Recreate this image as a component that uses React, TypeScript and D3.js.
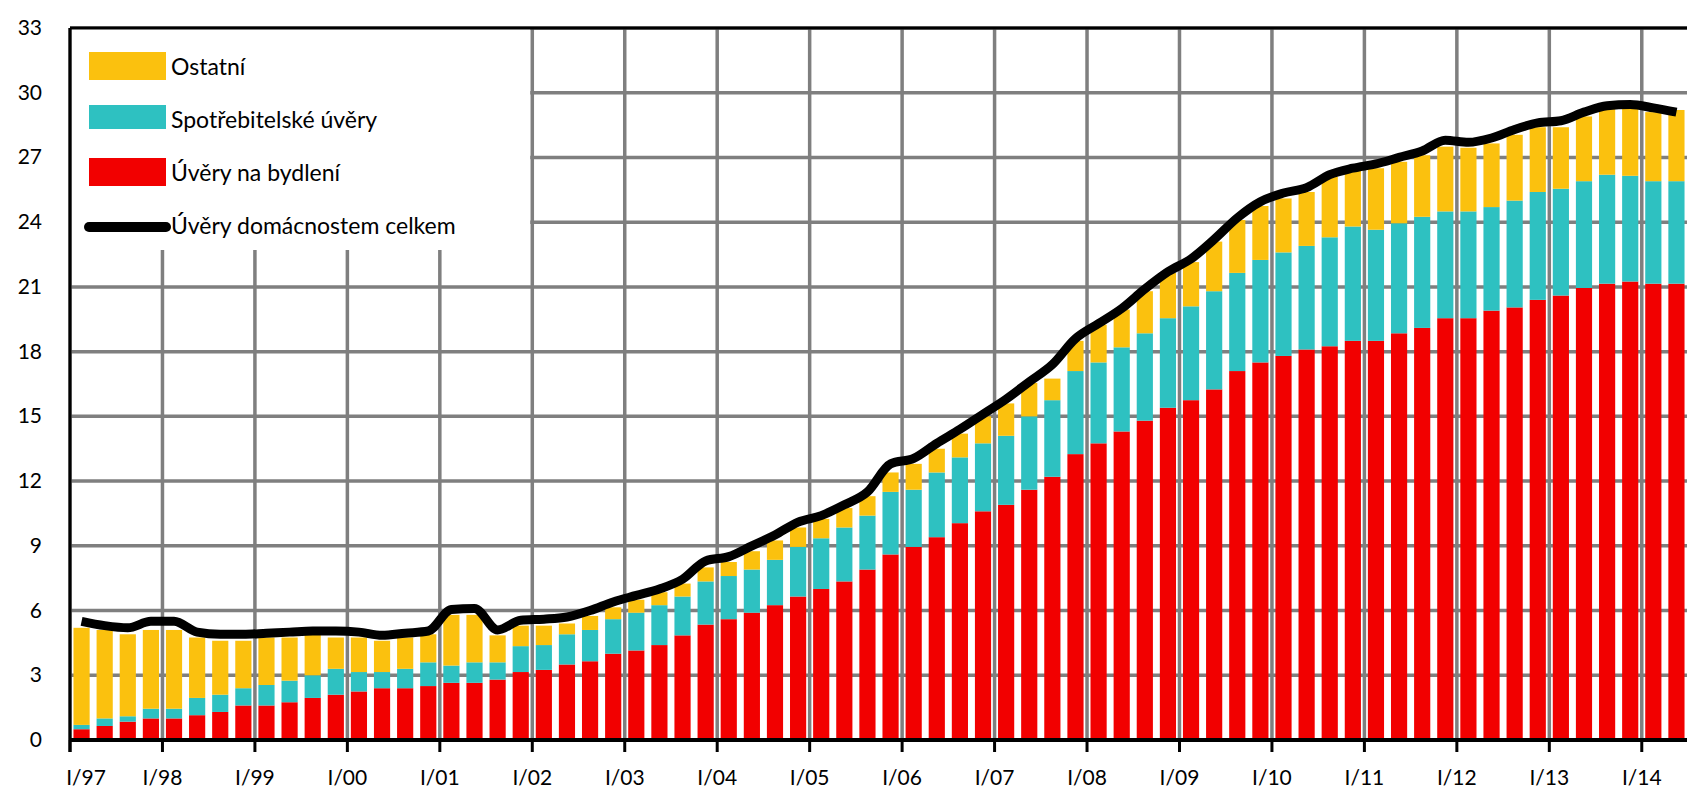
import React from "react";
import * as d3 from "d3";

// quarters I/97 .. II/14
const years = d3.range(1997, 2015);
const quarters: string[] = [];
years.forEach((y) => {
  ["I", "II", "III", "IV"].forEach((q) => {
    if (quarters.length < 70) quarters.push(`${q}/${String(y).slice(2)}`);
  });
});

const housing = [
  0.5, 0.65, 0.85, 1.0, 1.0, 1.15, 1.3, 1.6, 1.6, 1.75, 1.95, 2.1, 2.25, 2.4, 2.4, 2.5,
  2.65, 2.65, 2.8, 3.15, 3.25, 3.5, 3.65, 4.0, 4.15, 4.4, 4.85, 5.35, 5.6, 5.9, 6.25, 6.65,
  7.0, 7.35, 7.9, 8.6, 8.95, 9.4, 10.05, 10.6, 10.9, 11.6, 12.2, 13.25, 13.75, 14.3, 14.8, 15.4,
  15.75, 16.25, 17.1, 17.5, 17.8, 18.1, 18.25, 18.5, 18.5, 18.85, 19.1, 19.55, 19.55, 19.9, 20.05, 20.4,
  20.6, 20.95, 21.15, 21.25, 21.15, 21.15,
];
// cumulative top of consumer loans (housing + consumer)
const consumerTop = [
  0.7, 1.0, 1.1, 1.45, 1.45, 1.95, 2.1, 2.4, 2.55, 2.75, 3.0, 3.3, 3.15, 3.15, 3.3, 3.6,
  3.45, 3.6, 3.6, 4.35, 4.4, 4.9, 5.1, 5.6, 5.9, 6.25, 6.65, 7.35, 7.6, 7.9, 8.35, 8.95,
  9.35, 9.85, 10.4, 11.5, 11.6, 12.4, 13.1, 13.75, 14.1, 15.0, 15.75, 17.1, 17.5, 18.2, 18.85, 19.55,
  20.1, 20.8, 21.65, 22.25, 22.6, 22.9, 23.3, 23.8, 23.65, 23.95, 24.25, 24.5, 24.5, 24.7, 25.0, 25.4,
  25.55, 25.9, 26.2, 26.15, 25.9, 25.9,
];
// cumulative top of other loans (bar top)
const otherTop = [
  5.2, 5.1, 4.9, 5.1, 5.1, 4.75, 4.6, 4.6, 4.75, 4.75, 4.9, 4.75, 4.75, 4.6, 4.75, 4.9,
  5.8, 5.8, 4.85, 5.3, 5.3, 5.4, 5.75, 6.15, 6.5, 6.85, 7.25, 8.0, 8.25, 8.75, 9.25, 9.85,
  10.25, 10.75, 11.3, 12.4, 12.8, 13.5, 14.2, 15.0, 15.6, 16.55, 16.75, 18.5, 19.25, 19.95, 20.8, 21.65,
  22.15, 23.1, 24.1, 24.75, 25.1, 25.4, 26.1, 26.4, 26.5, 26.8, 27.1, 27.5, 27.45, 27.65, 28.05, 28.4,
  28.4, 28.9, 29.25, 29.25, 29.1, 29.2,
];
const total = [
  5.5, 5.3, 5.2, 5.5, 5.5, 5.0, 4.9, 4.9, 4.95, 5.0, 5.05, 5.05, 5.0, 4.85, 4.95, 5.05,
  6.05, 6.1, 5.1, 5.55, 5.6, 5.7, 6.0, 6.4, 6.7, 7.0, 7.45, 8.3, 8.5, 9.0, 9.5, 10.1,
  10.4, 10.9, 11.5, 12.8, 13.05, 13.75, 14.4, 15.1, 15.8, 16.6, 17.4, 18.6, 19.3, 20.0, 20.9, 21.7,
  22.3, 23.2, 24.2, 24.95, 25.35, 25.6, 26.2, 26.5, 26.7, 27.0, 27.3, 27.8, 27.7, 27.9, 28.3, 28.6,
  28.7, 29.1, 29.4, 29.45, 29.3, 29.1,
];

const yTicks = d3.range(0, 34, 3);
const yearLabels = years.slice(0, 18).map((y) => `I/${String(y).slice(2)}`);

const legendItems = [
  { label: "Ostatní", color: "#FBC10E", kind: "rect" },
  { label: "Spotřebitelské úvěry", color: "#2EC1C1", kind: "rect" },
  { label: "Úvěry na bydlení", color: "#F20000", kind: "rect" },
  { label: "Úvěry domácnostem celkem", color: "#000", kind: "line" },
];

const W = 1687;
const H = 802;
const left = 70;
const right = 1688;
const top = 28;
const bottom = 740;

export default function App() {
  const x = d3.scaleBand<string>().domain(quarters).range([left, right]).paddingInner(0.3).paddingOuter(0.15);
  const y = d3.scaleLinear().domain([0, 33]).range([bottom, top]);
  const yearX = (i: number) => left + i * 4 * ((right - left) / quarters.length);
  const cx = (i: number) => x(quarters[i])! + x.bandwidth() / 2;

  const line = d3
    .line<number>()
    .x((_, i) => cx(i))
    .y((d) => y(d))
    .curve(d3.curveMonotoneX);

  const font = "Lato, 'Open Sans', sans-serif";

  return (
    <svg width={W} height={H} style={{ position: "absolute", left: 0, top: 0, background: "#fff" }}>
      {/* grid */}
      {yTicks.slice(1).map((t) => (
        <line key={t} x1={left} x2={W} y1={y(t)} y2={y(t)} stroke="#7f7f7f" strokeWidth={3.5} />
      ))}
      {/* legend background */}
      <rect x={left} y={top} width={yearX(5) - left - 2} height={222} fill="#fff" />
      {yearLabels.map((_, i) => (
        <line key={i} x1={yearX(i)} x2={yearX(i)} y1={i > 0 && i < 5 ? top + 222 : top} y2={bottom} stroke="#7f7f7f" strokeWidth={3.5} />
      ))}

      {/* bars */}
      {quarters.map((q, i) => (
        <g key={q}>
          <rect x={x(q)} width={x.bandwidth()} y={y(housing[i])} height={y(0) - y(housing[i])} fill="#F20000" />
          <rect x={x(q)} width={x.bandwidth()} y={y(consumerTop[i])} height={y(housing[i]) - y(consumerTop[i])} fill="#2EC1C1" />
          <rect x={x(q)} width={x.bandwidth()} y={y(otherTop[i])} height={y(consumerTop[i]) - y(otherTop[i])} fill="#FBC10E" />
        </g>
      ))}

      {/* total line */}
      <path d={line(total) ?? ""} fill="none" stroke="#000" strokeWidth={9} strokeLinejoin="round" />

      {/* axes */}
      <line x1={left} x2={W} y1={top} y2={top} stroke="#000" strokeWidth={3} />
      <line x1={left} x2={left} y1={top} y2={bottom + 12} stroke="#000" strokeWidth={3} />
      <line x1={left} x2={W} y1={bottom} y2={bottom} stroke="#000" strokeWidth={4} />
      {yearLabels.map((l, i) => (
        <g key={l}>
          <line x1={yearX(i)} x2={yearX(i)} y1={bottom} y2={bottom + 12} stroke="#000" strokeWidth={3} />
          <text x={yearX(i) + (i === 0 ? 16 : 0)} y={bottom + 45} textAnchor="middle" fontFamily={font} fontSize={21} fill="#000">
            {l}
          </text>
        </g>
      ))}
      {yTicks.map((t) => (
        <text key={t} x={42} y={y(t) + 7} textAnchor="end" fontFamily={font} fontSize={21} fill="#000">
          {t}
        </text>
      ))}

      {/* legend */}
      {legendItems.map((it, i) => {
        const cy = 66 + i * 53;
        return (
          <g key={it.label}>
            {it.kind === "rect" ? (
              <rect x={89} y={cy - 14} width={77} height={i === 1 ? 24 : 28} fill={it.color} />
            ) : (
              <line x1={89} x2={166} y1={cy + 2} y2={cy + 2} stroke="#000" strokeWidth={10} strokeLinecap="round" />
            )}
            <text x={171} y={cy + 9} fontFamily={font} fontSize={23} fill="#000">
              {it.label}
            </text>
          </g>
        );
      })}
    </svg>
  );
}
